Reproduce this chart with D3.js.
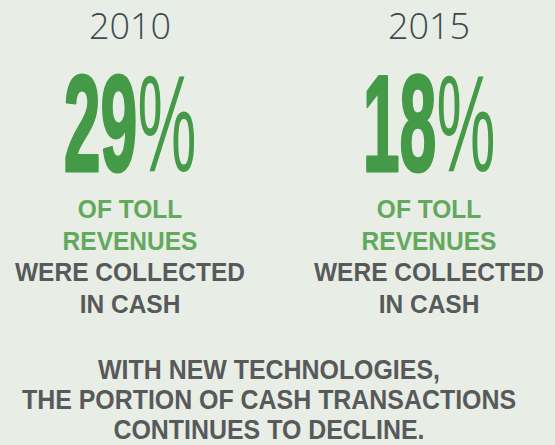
<!DOCTYPE html>
<html>
<head>
<meta charset="utf-8">
<script src="https://cdn.jsdelivr.net/npm/d3@7"></script>
<style>
  body { margin: 0; background: #e8eee5; }
  svg { display: block; }
</style>
</head>
<body>
<div class="infographic"></div>
<script>
var years = ["2010", "2015"];
var cashShare = [29, 18];
var greenLines = ["OF TOLL", "REVENUES"];
var grayLines = ["WERE COLLECTED", "IN CASH"];
var footerLines = [
  "WITH NEW TECHNOLOGIES,",
  "THE PORTION OF CASH TRANSACTIONS",
  "CONTINUES TO DECLINE."
];

function init() {
  var w = 555;
  var h = 445;
  var bigGreen = "#449a47";
  var lightGreen = "#63a95d";
  var gray = "#58595b";
  var slate = "#3b4a51";

  var svg = d3.select(".infographic")
    .append("svg")
    .attr("width", w)
    .attr("height", h);

  svg.append("rect")
    .attr("width", w)
    .attr("height", h)
    .attr("fill", "#e8eee5");

  // one column per year
  var xScale = d3.scalePoint()
    .domain(years)
    .range([130, 429]);

  var data = years.map(function(y, i) {
    return { year: y, value: cashShare[i] };
  });

  var col = svg.selectAll(".col")
    .data(data)
    .enter()
    .append("g")
    .attr("class", "col")
    .attr("transform", function(d) {
      return "translate(" + xScale(d.year) + ",0)";
    });

  col.append("text")
    .attr("y", 39)
    .attr("text-anchor", "middle")
    .attr("font-family", "'Open Sans', sans-serif")
    .attr("font-weight", 300)
    .attr("font-size", "36px")
    .attr("fill", slate)
    .text(function(d) { return d.year; });

  // big condensed percentage
  var big = col.append("text")
    .attr("y", 171)
    .attr("text-anchor", "middle")
    .attr("transform", "scale(0.48,1)")
    .attr("font-family", "'Liberation Sans', Arial, sans-serif")
    .attr("font-size", "138px")
    .attr("fill", bigGreen);

  big.append("tspan")
    .attr("font-weight", "bold")
    .attr("stroke", bigGreen)
    .attr("stroke-width", 3)
    .attr("stroke-linejoin", "round")
    .text(function(d) { return d.value; });

  big.append("tspan")
    .attr("font-weight", "normal")
    .text("%");

  var colLines = greenLines.map(function(t) { return { t: t, c: lightGreen }; })
    .concat(grayLines.map(function(t) { return { t: t, c: gray }; }));

  var lineY = d3.scaleLinear()
    .domain([0, 3])
    .range([218, 313]);

  col.selectAll(".line")
    .data(colLines)
    .enter()
    .append("text")
    .attr("class", "line")
    .attr("transform", function(d, i) {
      return "translate(0," + lineY(i) + ") scale(0.98,1)";
    })
    .attr("text-anchor", "middle")
    .attr("font-family", "'Liberation Sans', Arial, sans-serif")
    .attr("font-weight", "bold")
    .attr("font-size", "25px")
    .attr("fill", function(d) { return d.c; })
    .text(function(d) { return d.t; });

  var footY = d3.scaleLinear()
    .domain([0, 2])
    .range([379, 439]);

  svg.selectAll(".foot")
    .data(footerLines)
    .enter()
    .append("text")
    .attr("class", "foot")
    .attr("transform", function(d, i) {
      return "translate(269," + footY(i) + ") scale(0.89,1)";
    })
    .attr("text-anchor", "middle")
    .attr("font-family", "'Liberation Sans', Arial, sans-serif")
    .attr("font-weight", "bold")
    .attr("font-size", "28px")
    .attr("fill", gray)
    .text(function(d) { return d; });
}

window.onload = init;
</script>
</body>
</html>
